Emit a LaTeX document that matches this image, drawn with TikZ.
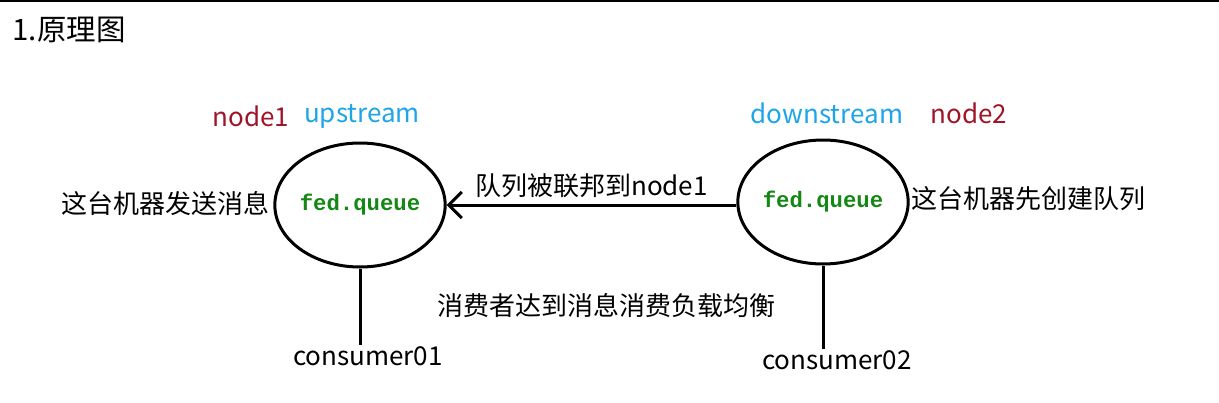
\documentclass[tikz,border=0pt]{standalone}
\usepackage{fontspec}
\setmainfont{Noto Sans CJK SC}
\setmonofont{Liberation Mono}
\usepackage{tikz}
\usetikzlibrary{positioning}
\usetikzlibrary{arrows.meta}
\usetikzlibrary{shapes.geometric}
\definecolor{nodered}{RGB}{160,20,40}
\definecolor{streamblue}{RGB}{30,165,230}
\definecolor{queuegreen}{RGB}{20,135,20}
\tikzset{qnode/.style = {draw, ellipse, line width=3pt, minimum width=160, minimum height=124, inner sep=0,
    font=\ttfamily\bfseries\fontsize{22.3}{26}\selectfont, text=queuegreen}}
\tikzset{txt/.style = {inner sep=0, font=\fontsize{26}{30}\selectfont}}
\tikzset{every picture/.style={
    every path/.style={line width=3pt},
}}

\begin{document}
\begin{tikzpicture}[x=1pt, y=-1pt]
      \useasboundingbox (0,0) rectangle (1219,402);
      \draw[line width=2pt] (0,1) -- (1219,1);
      \node[txt, font=\fontsize{29.5}{34}\selectfont] (title) at (69,30) {1.原理图};
      % the two brokers
      \node[qnode] (up) at (360,205) {fed.queue};
      \node[qnode] (down) at (823,202) {fed.queue};
      \node[txt, text=nodered] (n1) at (251,116) {node1};
      \node[txt, text=streamblue] (us) at (362,116) {upstream};
      \node[txt, text=streamblue] (ds) at (827,113) {downstream};
      \node[txt, text=nodered] (n2) at (969,113) {node2};
      \node[txt] (send) at (165,204) {这台机器发送消息};
      \node[txt] (make) at (1028,199) {这台机器先创建队列};
      % federation link
      \draw[-{Straight Barb[length=13pt, width=26pt]}] (down.west |- up.east) -- (up.east)
          node[midway, above=6pt, txt] (fed) {队列被联邦到node1};
      % consumers
      \node[txt] (c1) at (368,356) {consumer01};
      \node[txt] (c2) at (837,360) {consumer02};
      \draw (up.south) -- (up.south |- c1.north);
      \draw (down.south) -- (down.south |- c2.north);
      \node[txt] (lb) at (606,306) {消费者达到消息消费负载均衡};
\end{tikzpicture}
\end{document}
